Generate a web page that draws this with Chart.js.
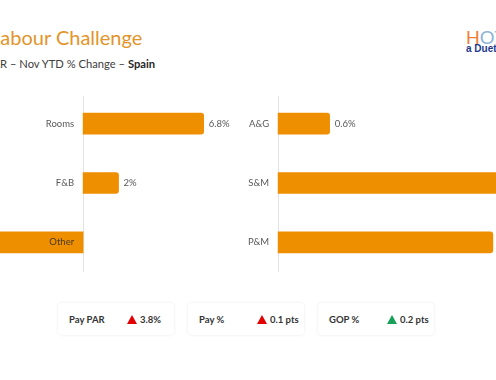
<!DOCTYPE html>
<html><head><meta charset="utf-8">
<script src="https://cdn.jsdelivr.net/npm/chart.js@4.4.0/dist/chart.umd.min.js"></script>
<style>
html,body{margin:0;padding:0;width:496px;height:380px;overflow:hidden;background:#fff;font-family:Lato,"Open Sans",sans-serif;}
.abs{position:absolute;white-space:nowrap;line-height:1;}
#title{top:27px;font-size:20px;color:#E3942A;}
#sub{top:58px;font-size:11.2px;color:#404040;}
#sub b{color:#262626;}
#logo1{left:466px;top:28px;font-size:19px;font-family:"Liberation Sans",Arial,sans-serif;font-weight:300;}
#logo2{left:466px;top:44px;font-size:10px;font-family:"Liberation Sans",Arial,sans-serif;font-weight:bold;color:#1D3A8F;}
.box{position:absolute;top:303px;height:32px;width:116px;background:#fff;border-radius:4px;box-shadow:0 0 3px rgba(0,0,0,0.09);}
.box .lab{position:absolute;left:11px;top:0;height:32px;display:flex;align-items:center;font-size:9.5px;font-weight:bold;color:#333;}
.box .val{position:absolute;left:69px;top:0;height:32px;display:flex;align-items:center;font-size:9.5px;font-weight:bold;color:#333;}
.tri{display:inline-block;width:0;height:0;border-left:5px solid transparent;border-right:5px solid transparent;margin-right:3px;}
.red{border-bottom:9px solid #E30000;}
.green{border-bottom:9px solid #17A05A;}
canvas{position:absolute;}
</style></head>
<body>
<div id="title" class="abs"><span id="tpre">L</span>abour Challenge</div>
<div id="sub" class="abs"><span id="spre">Pay PA</span>R – Nov YTD % Change – <b>Spain</b></div>
<div id="logo1" class="abs"><span style="color:#F07E3A">H</span><span style="color:#8DB3D6">O</span><span style="color:#8DB3D6">T</span></div>
<div id="logo2" class="abs">a Duetto</div>
<canvas id="left" width="289" height="178" style="left:-41px;top:94px"></canvas>
<canvas id="right" width="323" height="178" style="left:230px;top:94px"></canvas>
<div id="kpis"></div>
<script>
// ---- data ----
const leftCategories = ['Rooms', 'F&B', 'Other'];
const leftValues = [6.8, 2.0, -5.8];
const rightCategories = ['A&G', 'S&M', 'P&M'];
const rightValues = [0.6, 3.0, 2.5];
const kpiNames = ['Pay PAR', 'Pay %', 'GOP %'];
const kpiValues = ['3.8%', '0.1 pts', '0.2 pts'];
const kpiTrend = ['red', 'red', 'green'];

// offset clipped prefixes
document.getElementById('title').style.left = (-document.getElementById('tpre').offsetWidth) + 'px';
document.getElementById('sub').style.left = (-document.getElementById('spre').offsetWidth) + 'px';

const BAR = '#EE8F00';
const labelPlugin = {
  id: 'catLabels',
  beforeDatasetsDraw(chart) {
    const ctx = chart.ctx, x = chart.scales.x, a = chart.chartArea;
    const zx = Math.round(x.getPixelForValue(0)) + 0.5;
    ctx.save();
    ctx.strokeStyle = '#E3E3E3'; ctx.lineWidth = 1;
    ctx.beginPath(); ctx.moveTo(zx, a.top + 2); ctx.lineTo(zx, a.bottom); ctx.stroke();
    ctx.restore();
  },
  afterDatasetsDraw(chart) {
    const ctx = chart.ctx, x = chart.scales.x, y = chart.scales.y;
    const zero = x.getPixelForValue(0);
    ctx.save();
    ctx.font = '9.5px Lato, "Open Sans", sans-serif';
    ctx.textBaseline = 'middle';
    chart.data.labels.forEach((lab, i) => {
      const py = y.getPixelForValue(i);
      const v = chart.data.datasets[0].data[i];
      ctx.fillStyle = v < 0 ? '#4A3A22' : '#595959';
      ctx.textAlign = 'right';
      ctx.fillText(lab, zero - 9, py);
      ctx.fillStyle = '#595959';
      const px = x.getPixelForValue(v);
      if (v >= 0) { ctx.textAlign = 'left'; ctx.fillText(v + '%', px + 5, py); }
      else { ctx.textAlign = 'right'; ctx.fillText(v + '%', px - 5, py); }
    });
    ctx.restore();
  }
};

function makeChart(id, cats, vals, min, max) {
  return new Chart(document.getElementById(id), {
    type: 'bar',
    data: { labels: cats, datasets: [{ data: vals, backgroundColor: BAR, borderRadius: 3, borderSkipped: 'start', barThickness: 21 }] },
    options: {
      indexAxis: 'y', responsive: false, animation: false, events: [],
      layout: { padding: 0 },
      plugins: { legend: { display: false }, tooltip: { enabled: false } },
      scales: { x: { display: false, min: min, max: max }, y: { display: false } }
    },
    plugins: [labelPlugin]
  });
}
makeChart('left', leftCategories, leftValues, -7, 9.3);
makeChart('right', rightCategories, rightValues, -0.56, 3.2);

const lefts = [58, 188, 318];
const k = document.getElementById('kpis');
kpiNames.forEach((n, i) => {
  const d = document.createElement('div');
  d.className = 'box'; d.style.left = lefts[i] + 'px';
  d.innerHTML = '<div class="lab">' + n + '</div><div class="val"><span class="tri ' + kpiTrend[i] + '"></span>' + kpiValues[i] + '</div>';
  k.appendChild(d);
});
</script>
</body></html>
